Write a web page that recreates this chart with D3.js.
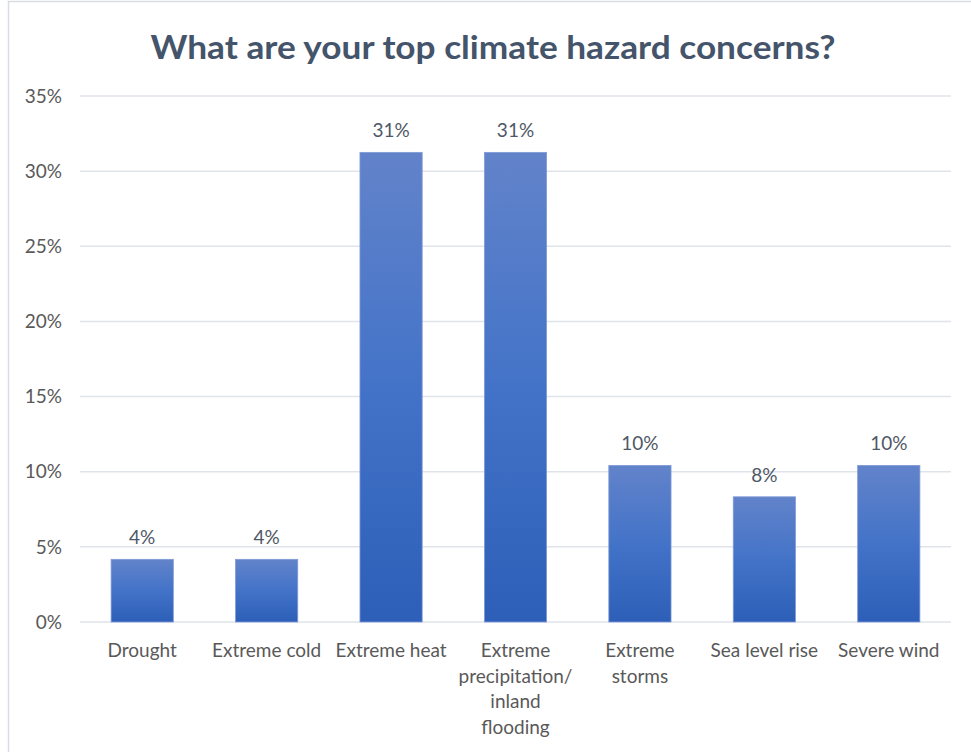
<!DOCTYPE html>
<html><head><meta charset="utf-8">
<script src="https://cdn.jsdelivr.net/npm/d3@7"></script>
<style>body{margin:0;background:#fff}svg{display:block}</style>
</head><body>
<svg id="c" width="971" height="752"></svg>
<script>
const categories = ["Drought","Extreme cold","Extreme heat","Extreme precipitation/ inland flooding","Extreme storms","Sea level rise","Severe wind"];
const labelLines = [["Drought"],["Extreme cold"],["Extreme heat"],["Extreme","precipitation/","inland","flooding"],["Extreme","storms"],["Sea level rise"],["Severe wind"]];
const values = [4.17, 4.17, 31.25, 31.25, 10.42, 8.33, 10.42];
const valueLabels = ["4%","4%","31%","31%","10%","8%","10%"];
const yTicks = [0,5,10,15,20,25,30,35];
const title = "What are your top climate hazard concerns?";

const svg = d3.select("#c");
const font = "Lato, 'Open Sans', sans-serif";
// frame
svg.append("rect").attr("x",8.5).attr("y",1.5).attr("width",980).attr("height",760)
  .attr("fill","none").attr("stroke","#d9dde3").attr("stroke-width",1.5);

const x = d3.scaleBand().domain(categories).range([80,951]).paddingInner(0.5).paddingOuter(0.25);
const y = d3.scaleLinear().domain([0,35]).range([622,96]);

const defs = svg.append("defs");
const g = defs.append("linearGradient").attr("id","bg").attr("x1",0).attr("y1",0).attr("x2",0).attr("y2",1);
g.append("stop").attr("offset","0%").attr("stop-color","#6283ca");
g.append("stop").attr("offset","50%").attr("stop-color","#4373c8");
g.append("stop").attr("offset","100%").attr("stop-color","#2d5fb8");

// gridlines
svg.append("g").selectAll("line").data(yTicks).join("line")
  .attr("x1",80).attr("x2",951).attr("y1",d=>y(d)).attr("y2",d=>y(d))
  .attr("stroke","#dfe3ea").attr("stroke-width",1.5);

// y axis labels
svg.append("g").selectAll("text").data(yTicks).join("text")
  .attr("x",62).attr("y",d=>y(d)).attr("dy","0.35em").attr("text-anchor","end")
  .attr("font-family",font).attr("font-size",19).attr("fill","#595959")
  .text(d=>d+"%");

// bars
svg.append("g").selectAll("rect").data(values).join("rect")
  .attr("x",(d,i)=>x(categories[i])).attr("width",x.bandwidth())
  .attr("y",d=>y(d)).attr("height",d=>y(0)-y(d))
  .attr("fill","url(#bg)").attr("stroke","#7f9ad6").attr("stroke-width",0.8);

// value labels
svg.append("g").selectAll("text").data(values).join("text")
  .attr("x",(d,i)=>x(categories[i])+x.bandwidth()/2).attr("y",d=>y(d)-15)
  .attr("text-anchor","middle").attr("font-family",font).attr("font-size",19).attr("fill","#4f5866")
  .text((d,i)=>valueLabels[i]);

// category labels
const cl = svg.append("g");
labelLines.forEach((lines,i)=>{
  const cx = x(categories[i])+x.bandwidth()/2;
  const t = cl.append("text").attr("text-anchor","middle").attr("font-family",font)
    .attr("font-size",19).attr("fill","#595959");
  lines.forEach((ln,j)=>t.append("tspan").attr("x",cx).attr("y",657+j*25.7).text(ln));
});

// title
svg.append("text").attr("x",493).attr("y",59).attr("text-anchor","middle")
  .attr("font-family",font).attr("font-weight","bold").attr("font-size",33).attr("fill","#44546a")
  .attr("textLength",685).attr("lengthAdjust","spacingAndGlyphs")
  .text(title);
</script>
</body></html>
